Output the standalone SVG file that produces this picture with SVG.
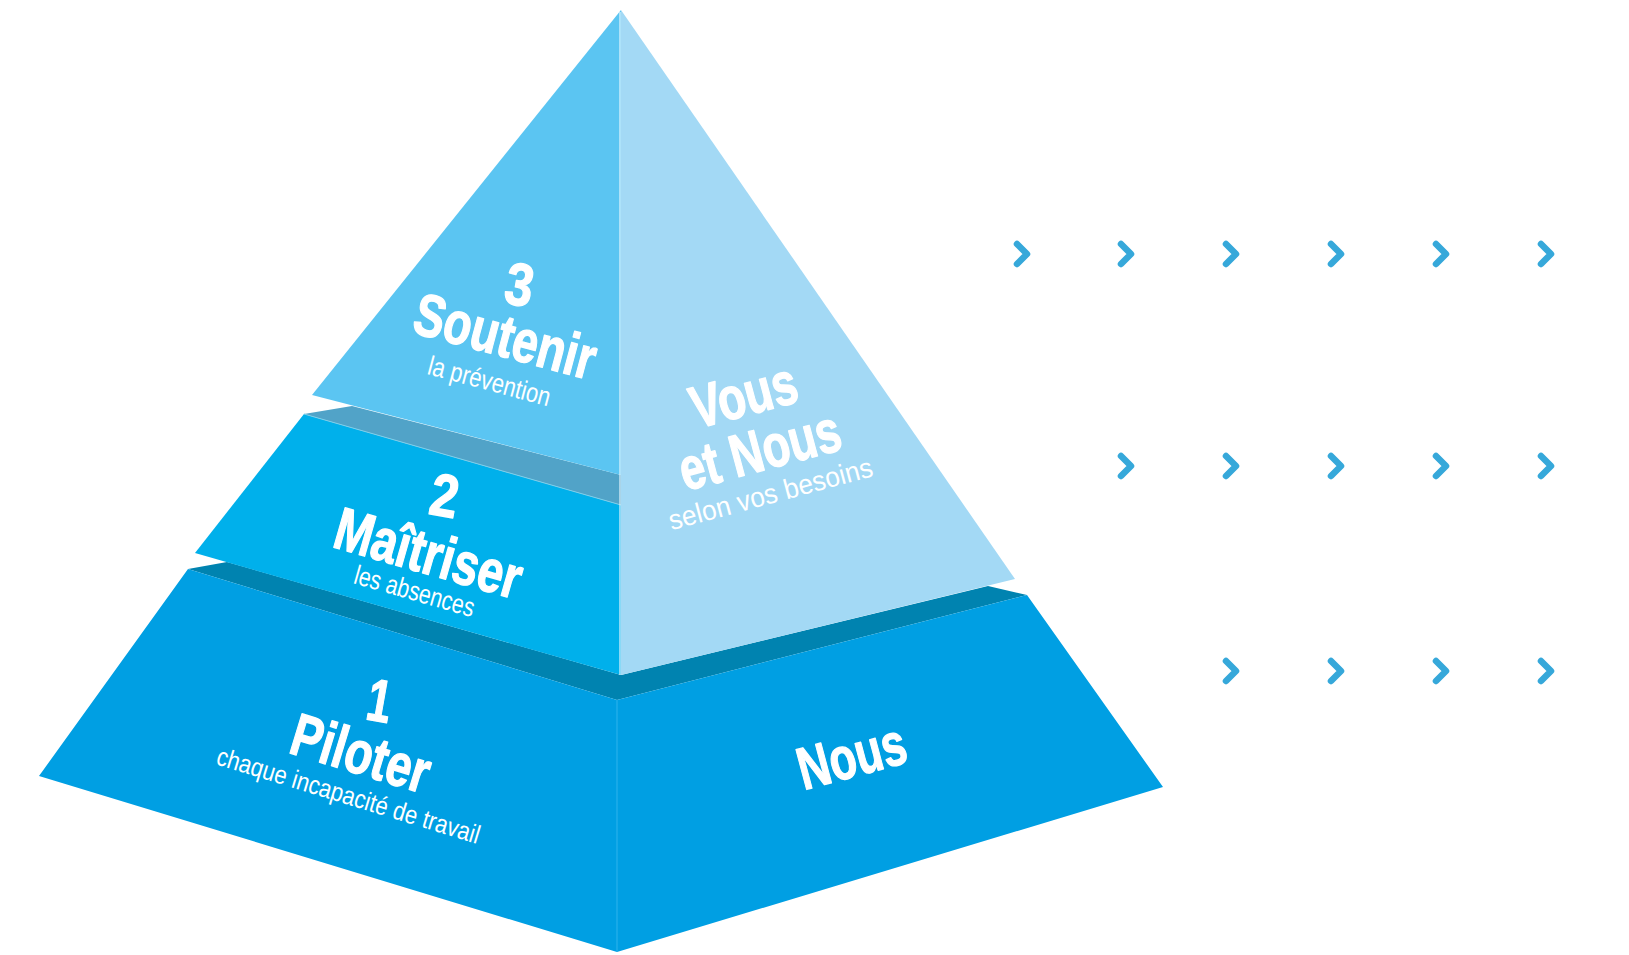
<svg xmlns="http://www.w3.org/2000/svg" xmlns:xlink="http://www.w3.org/1999/xlink" width="1629" height="955" viewBox="0 0 1629 955">
<defs>
<style>
.big{font-family:"Liberation Sans","Noto Sans",sans-serif;font-weight:bold;fill:#fff;stroke:#fff;stroke-width:1.3;stroke-linejoin:round;text-anchor:middle}
.sub{font-family:"Liberation Sans","Noto Sans",sans-serif;font-weight:normal;fill:#fff;text-anchor:middle}
.chev{fill:none;stroke:#36a8da;stroke-width:6.5;stroke-linecap:round;stroke-linejoin:round}
</style>
<polyline id="chev" class="chev" points="-5,-10 5,0 -5,10"/>
</defs>
<rect width="1629" height="955" fill="#fff"/>

<g id="tier1">
<polygon points="188,569 227,562 621,675 988,586 1027,595 617,700" fill="#0083b0"/>
<polygon points="188,569 617,700 1027,595 1163,787 617,952 39,776" fill="#009fe3"/>
<line x1="617" y1="700" x2="617" y2="952" stroke="#2fb3ec" stroke-width="1"/>
<text class="big" font-size="60" transform="translate(376,721) rotate(10)" textLength="24" lengthAdjust="spacingAndGlyphs">1</text>
<text class="big" font-size="60" transform="translate(355,773) rotate(17)" textLength="142" lengthAdjust="spacingAndGlyphs">Piloter</text>
<text class="sub" font-size="26" transform="translate(346,804) rotate(17)" textLength="274" lengthAdjust="spacingAndGlyphs">chaque incapacité de travail</text>
<text class="big" font-size="60" transform="translate(857,776) rotate(-15)" textLength="110" lengthAdjust="spacingAndGlyphs">Nous</text>
</g>

<g id="tier2">
<polygon points="304,414 352,406 621,475 621,505" fill="#51a3c8"/>
<polygon points="304,414 621,505 621,675 195,553" fill="#00b0eb"/>
<line x1="304" y1="414" x2="621" y2="505" stroke="#7fcde8" stroke-width="1"/>
<text class="big" font-size="60" transform="translate(441,516) rotate(10)" textLength="28" lengthAdjust="spacingAndGlyphs">2</text>
<text class="big" font-size="60" transform="translate(423,573) rotate(16)" textLength="192" lengthAdjust="spacingAndGlyphs">Maîtriser</text>
<text class="sub" font-size="27" transform="translate(412,600) rotate(16)" textLength="124" lengthAdjust="spacingAndGlyphs">les absences</text>
</g>

<g id="tier3">
<polygon points="621,10 621,475 312,395" fill="#5bc5f2"/>
<text class="big" font-size="60" transform="translate(516,305) rotate(10)" textLength="28" lengthAdjust="spacingAndGlyphs">3</text>
<text class="big" font-size="60" transform="translate(500,356) rotate(15)" textLength="186" lengthAdjust="spacingAndGlyphs">Soutenir</text>
<text class="sub" font-size="27" transform="translate(487,390) rotate(15)" textLength="126" lengthAdjust="spacingAndGlyphs">la prévention</text>
</g>

<g id="right-face">
<polygon points="621,10 1015,579 621,675" fill="#a3d9f5"/>
<line x1="620" y1="12" x2="620" y2="675" stroke="#e6f5fd" stroke-width="1.2"/>
<text class="big" font-size="60" transform="translate(749,415) rotate(-15)" textLength="108" lengthAdjust="spacingAndGlyphs">Vous</text>
<text class="big" font-size="60" transform="translate(765,470) rotate(-15)" textLength="165" lengthAdjust="spacingAndGlyphs">et Nous</text>
<text class="sub" font-size="28" transform="translate(773,503) rotate(-15)" textLength="210" lengthAdjust="spacingAndGlyphs">selon vos besoins</text>
</g>

<g id="connectors">
<use xlink:href="#chev" x="1022" y="254"/>
<use xlink:href="#chev" x="1126" y="254"/>
<use xlink:href="#chev" x="1231" y="254"/>
<use xlink:href="#chev" x="1336" y="254"/>
<use xlink:href="#chev" x="1441" y="254"/>
<use xlink:href="#chev" x="1546" y="254"/>
<use xlink:href="#chev" x="1126" y="466"/>
<use xlink:href="#chev" x="1231" y="466"/>
<use xlink:href="#chev" x="1336" y="466"/>
<use xlink:href="#chev" x="1441" y="466"/>
<use xlink:href="#chev" x="1546" y="466"/>
<use xlink:href="#chev" x="1231" y="671"/>
<use xlink:href="#chev" x="1336" y="671"/>
<use xlink:href="#chev" x="1441" y="671"/>
<use xlink:href="#chev" x="1546" y="671"/>
</g>
</svg>
